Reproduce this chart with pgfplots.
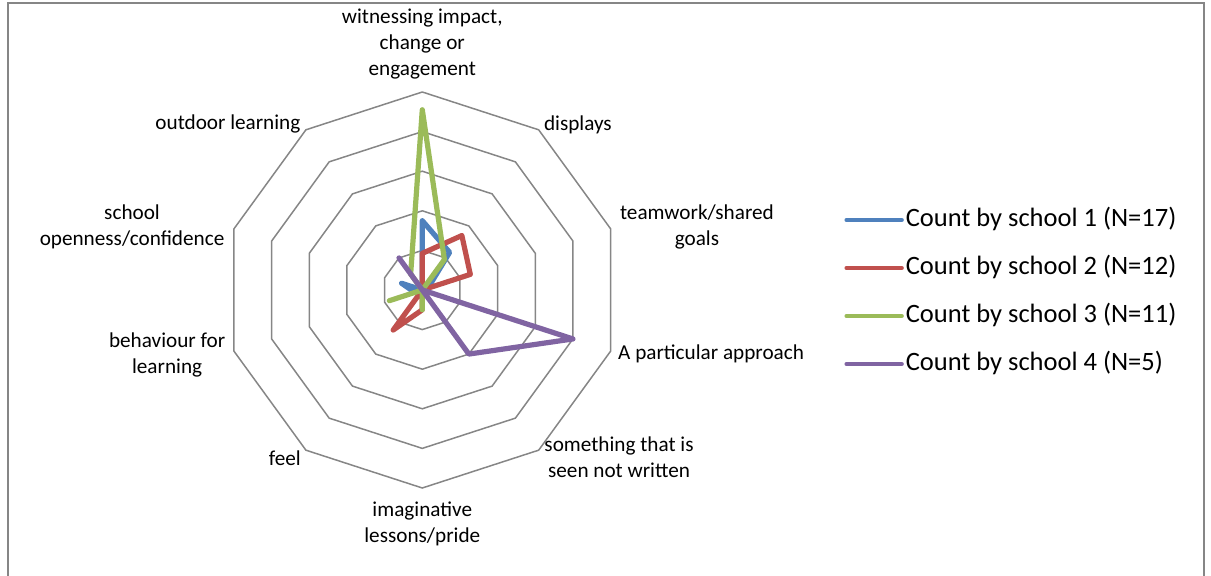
\documentclass[border=0pt]{standalone}
\usepackage{fontspec}
\setmainfont{Carlito}
\usepackage{pgfplots}
\pgfplotsset{compat=1.18}
\usepgfplotslibrary{polar}
\usetikzlibrary{calc}

\definecolor{sblue}{HTML}{4F81BD}
\definecolor{sred}{HTML}{C0504D}
\definecolor{sgreen}{HTML}{9BBB59}
\definecolor{spurple}{HTML}{8064A2}
\definecolor{ring}{HTML}{868686}

\begin{document}
\begin{tikzpicture}
\begin{polaraxis}[
    name=radar,
    at={(0,0)}, anchor=center,
    scale only axis,
    width=198pt, height=198pt,
    xmin=0, xmax=360,
    ymin=0, ymax=10,
    hide axis,
    clip=false,
    font=\fontsize{10.6}{13}\selectfont,
    every axis plot/.append style={line width=2.6pt, line join=round, line cap=round},
    legend style={
        at={(axis description cs:1.565,0.5)}, anchor=west, yshift=-1pt,
        draw=none, fill=none, inner sep=0pt,
        font=\fontsize{13.25}{15}\selectfont,
        row sep=11pt,
        nodes={inner ysep=0pt, inner xsep=1pt, text height=10pt, text depth=3pt},
    },
    legend cell align=left,
    legend image code/.code={\draw[#1, line width=2.2pt] (0pt,0pt) -- (27.5pt,0pt);},
]
% decagon rings
\pgfplotsinvokeforeach{2,4,6,8,10}{
\addplot[forget plot, ring, line width=0.75pt, line join=miter] coordinates {
 (90,#1) (54,#1) (18,#1) (-18,#1) (-54,#1) (-90,#1) (-126,#1) (-162,#1) (162,#1) (126,#1) (90,#1)};
}
% school 1
\addplot[sblue] coordinates {
 (90,3.5) (54,2.35) (18,0.3) (-18,0) (-54,0) (-90,0) (-126,0) (-162,0.4) (162,1.1) (126,0) (90,3.5)};
\addlegendentry{Count by school 1 (N=17)}
% school 2
\addplot[sred] coordinates {
 (90,1.85) (54,3.4) (18,2.55) (-18,0) (-54,0) (-90,1.0) (-126,2.5) (-162,0) (162,0) (126,0) (90,1.85)};
\addlegendentry{Count by school 2 (N=12)}
% school 3
\addplot[sgreen] coordinates {
 (90,9.1) (54,1.9) (18,0) (-18,0) (-54,0) (-90,1.0) (-126,0) (-162,1.75) (162,0) (126,1.0) (90,9.1)};
\addlegendentry{Count by school 3 (N=11)}
% school 4
\addplot[spurple] coordinates {
 (90,0) (54,0) (18,0) (-18,8) (-54,4) (-90,0) (-126,0) (-162,0) (162,0) (126,2) (90,0)};
\addlegendentry{Count by school 4 (N=5)}

\coordinate (c) at (axis cs:0,0);
\node[align=center] at (axis cs:90,12.42) {witnessing impact,\\change or\\engagement};
\node[align=center] at (axis cs:46.7,11.46) {displays};
\node[align=center] at (axis cs:12.9,14.23) {teamwork/shared\\goals};
\node[align=center] at (axis cs:-12.5,14.94) {A particular approach};
\node[align=center] at (axis cs:-40.3,13.03) {something that is\\seen not written};
\node[align=center] at (axis cs:-90,11.82) {imaginative\\lessons/pride};
\node[align=center] at (axis cs:-129.3,10.96) {feel};
\node[align=center] at (axis cs:-165.7,13.3) {behaviour for\\learning};
\node[align=center] at (axis cs:167.76,15.0) {school\\openness/confidence};
\node[align=center] at (axis cs:139.5,12.91) {outdoor learning};
\end{polaraxis}
\draw[ring, line width=0.8pt] ($(c)+(-207.15pt,-144pt)$) -- ($(c)+(-207.15pt,143.5pt)$)
    -- ($(c)+(390.85pt,143.5pt)$) -- ($(c)+(390.85pt,-144pt)$);
\pgfresetboundingbox
\path[use as bounding box] ($(c)+(-211.15pt,-143pt)$) rectangle ($(c)+(394.35pt,145pt)$);
\end{tikzpicture}
\end{document}
